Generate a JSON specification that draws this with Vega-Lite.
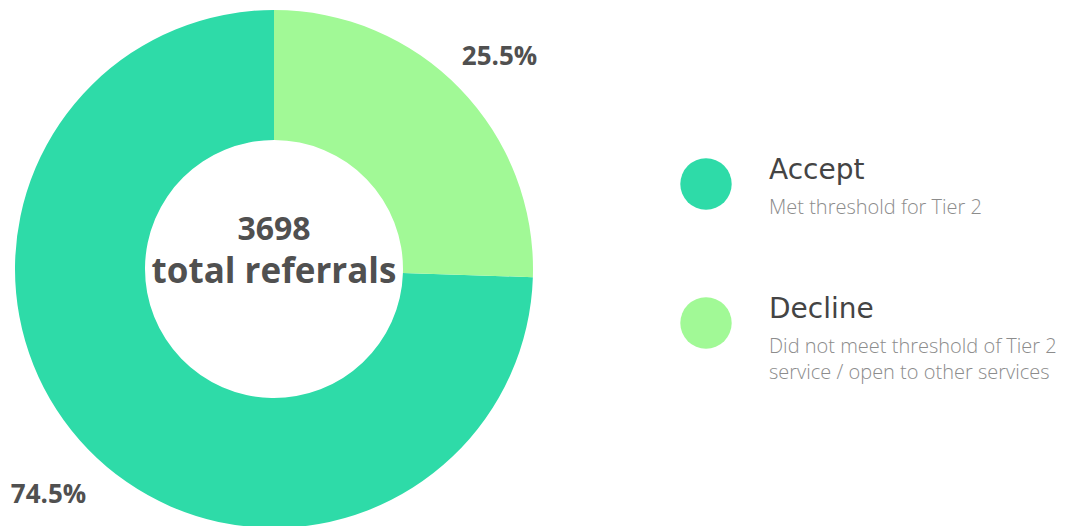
{
  "$schema": "https://vega.github.io/schema/vega-lite/v6.json",
  "padding": 0,
  "spacing": 0,
  "bounds": "flush",
  "background": "white",
  "config": {"view": {"stroke": null}, "font": "Open Sans"},
  "data": {
    "values": [
      {"cat": "Accept", "count": 2755, "pct": "74.5%", "desc": "Met threshold for Tier 2"},
      {"cat": "Decline", "count": 943, "pct": "25.5%", "desc": "Did not meet threshold of Tier 2\nservice / open to other services"}
    ]
  },
  "hconcat": [
    {
      "width": 548,
      "height": 538,
      "layer": [
        {
          "mark": {"type": "arc", "innerRadius": 129, "outerRadius": 259},
          "encoding": {
            "theta": {"field": "count", "type": "quantitative", "stack": true},
            "order": {"field": "cat", "sort": "descending"},
            "color": {"field": "cat", "type": "nominal", "legend": null,
              "scale": {"domain": ["Accept", "Decline"], "range": ["#2EDBA8", "#A1F996"]}}
          }
        },
        {
          "mark": {"type": "text", "radius": 314, "fontSize": 26, "fontWeight": "bold", "font": "Open Sans", "color": "#505050", "align": "center", "baseline": "middle", "dy": 7},
          "encoding": {
            "theta": {"field": "count", "type": "quantitative", "stack": true},
            "order": {"field": "cat", "sort": "descending"},
            "text": {"field": "pct", "type": "nominal"}
          }
        },
        {
          "data": {"values": [{"total": "3698", "caption": "total referrals"}]},
          "mark": {"type": "text", "fontSize": 32, "fontWeight": "bold", "font": "Open Sans", "color": "#505050", "align": "center", "baseline": "alphabetic", "dy": -29},
          "encoding": {"text": {"field": "total", "type": "nominal"}}
        },
        {
          "data": {"values": [{"total": "3698", "caption": "total referrals"}]},
          "mark": {"type": "text", "fontSize": 35, "fontWeight": "bold", "font": "Open Sans", "color": "#505050", "align": "center", "baseline": "alphabetic", "dy": 14},
          "encoding": {"text": {"field": "caption", "type": "nominal"}}
        }
      ]
    },
    {
      "width": 316,
      "height": 538,
      "encoding": {
        "y": {"field": "cat", "type": "nominal", "axis": null,
          "scale": {"type": "point", "domain": ["Accept", "Decline"], "range": [184, 323], "padding": 0}}
      },
      "layer": [
        {
          "mark": {"type": "point", "shape": "circle", "filled": true, "opacity": 1, "size": 2642},
          "encoding": {
            "color": {"field": "cat", "type": "nominal", "legend": null,
              "scale": {"domain": ["Accept", "Decline"], "range": ["#2EDBA8", "#A1F996"]}}
          }
        },
        {
          "mark": {"type": "text", "font": "DejaVu Sans", "fontSize": 28, "color": "#444444", "align": "left", "baseline": "alphabetic", "dx": 63, "dy": -5},
          "encoding": {"text": {"field": "cat", "type": "nominal"}}
        },
        {
          "mark": {"type": "text", "font": "Open Sans", "fontWeight": 300, "fontSize": 20, "color": "#8c8c8c", "align": "left", "baseline": "alphabetic", "dx": 63, "dy": 30, "lineBreak": "\n", "lineHeight": 26},
          "encoding": {"text": {"field": "desc", "type": "nominal"}}
        }
      ]
    }
  ]
}
